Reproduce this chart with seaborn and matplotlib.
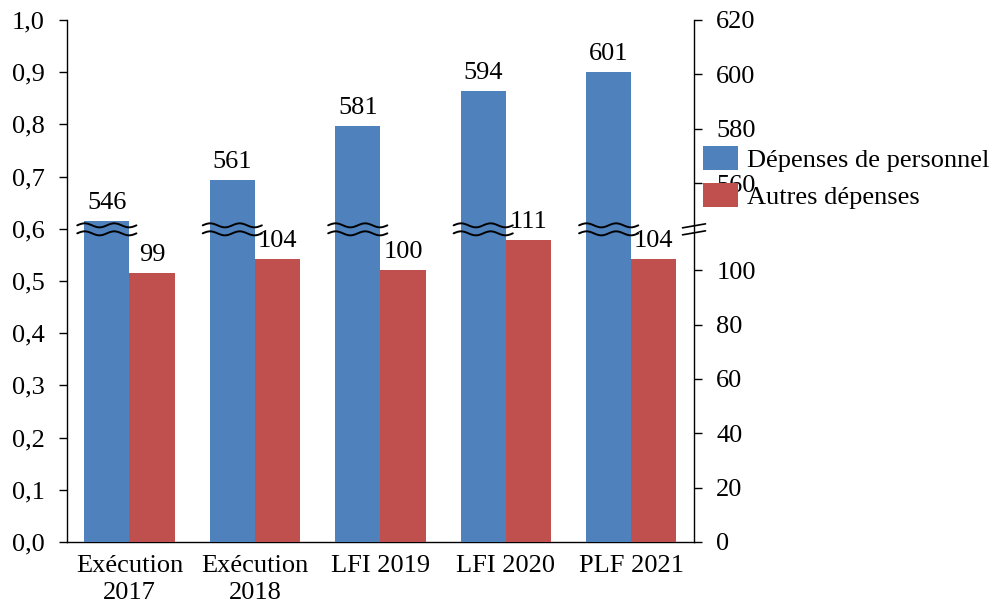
import numpy as np
import pandas as pd
import matplotlib
matplotlib.use("Agg")
import matplotlib.pyplot as plt
import matplotlib.transforms as mtransforms
import seaborn as sns

# ---- data -------------------------------------------------------------
categories = ["Exécution\n2017", "Exécution\n2018", "LFI 2019", "LFI 2020", "PLF 2021"]
personnel = [546, 561, 581, 594, 601]
autres = [99, 104, 100, 111, 104]
series_names = ["Dépenses de personnel", "Autres dépenses"]
right_ticks = [0, 20, 40, 60, 80, 100, 560, 580, 600, 620]
left_ticks = [0.0, 0.1, 0.2, 0.3, 0.4, 0.5, 0.6, 0.7, 0.8, 0.9, 1.0]

BLUE = "#4F81BD"
RED = "#C0504D"
FS = 19

# broken right axis: values up to LOW are shown as is, values from HIGH on
# are shifted down so that both ranges share one column
LOW, HIGH = 115.0, 543.0
GAP = HIGH - LOW


def forward(v):
    v = np.asarray(v, dtype=float)
    return np.where(v <= LOW, v, np.where(v >= HIGH, v - GAP, LOW + (v - LOW) * 1e-6))


def inverse(u):
    u = np.asarray(u, dtype=float)
    return np.where(u <= LOW, u, u + GAP)


sns.set_theme(style="white")
plt.rcParams["font.family"] = ["Liberation Serif", "DejaVu Serif"]
plt.rcParams["font.size"] = FS
plt.rcParams["text.color"] = "black"
plt.rcParams["xtick.color"] = "black"
plt.rcParams["ytick.color"] = "black"

fig = plt.figure(figsize=(10.05, 6.10), dpi=100)
ax = fig.add_axes([66.7 / 1005, 1 - 542 / 610, (694 - 66.7) / 1005, 522 / 610])
ax2 = ax.twinx()
ax2.set_yscale("function", functions=(forward, inverse))
ax2.set_ylim(0, 620)

df = pd.DataFrame({
    "cat": categories * 2,
    "serie": [series_names[0]] * len(categories) + [series_names[1]] * len(categories),
    "val": personnel + autres,
})

sns.barplot(data=df, x="cat", y="val", hue="serie", order=categories,
            hue_order=series_names, palette=[BLUE, RED], saturation=1,
            width=0.72, errorbar=None, ax=ax2, zorder=2,
            edgecolor="none", linewidth=0)
ax2.set_ylim(0, 620)
ax2.set_xlim(-0.5, len(categories) - 0.5)

handles, labels = ax2.get_legend_handles_labels()
if ax2.get_legend() is not None:
    ax2.get_legend().remove()

# value labels
for cont, vals in zip(ax2.containers, [personnel, autres]):
    ax2.bar_label(cont, labels=[str(v) for v in vals], padding=5, fontsize=FS)

# ---- axes styling ------------------------------------------------------
ax.set_ylim(0, 1)
ax.set_yticks(left_ticks)
ax.set_yticklabels([f"{t:.1f}".replace(".", ",") for t in left_ticks])
ax.set_xticks(range(len(categories)))
ax.set_xticklabels(categories, linespacing=1.3)
ax.tick_params(axis="x", length=0, pad=9, labelsize=FS)
ax.tick_params(axis="y", direction="out", length=6, width=1, pad=10, labelsize=FS)
for s in ["top", "right"]:
    ax.spines[s].set_visible(False)
for s in ["left", "bottom"]:
    ax.spines[s].set_color("black")
    ax.spines[s].set_linewidth(1)

ax2.set_yticks(right_ticks)
ax2.set_yticklabels([str(t) for t in right_ticks])
ax2.yaxis.set_minor_locator(matplotlib.ticker.NullLocator())
ax2.tick_params(axis="y", direction="out", length=6, width=1, pad=10, labelsize=FS)
ax2.tick_params(axis="x", length=0, labelbottom=False)
for s in ["top", "left", "bottom"]:
    ax2.spines[s].set_visible(False)
ax2.spines["right"].set_color("black")
ax2.spines["right"].set_linewidth(1)
ax2.set_xlabel("")
ax2.set_ylabel("")
ax.set_xlabel("")
ax.set_ylabel("")

# ---- break marks -------------------------------------------------------
px_per_left = ax.bbox.height  # left axis spans 0..1
y_break = ax.transData.inverted().transform(ax2.transData.transform((0, LOW)))[1]
blend = mtransforms.blended_transform_factory(ax2.transData, ax.transData)
px_per_x = ax.bbox.width / len(categories)

for bar in ax2.containers[0]:
    x0 = bar.get_x() - 7 / px_per_x
    x1 = bar.get_x() + bar.get_width() + 7 / px_per_x
    xs = np.linspace(x0, x1, 80)
    phase = (xs - x0) / (x1 - x0) * 2 * 2 * np.pi
    for off in (-4, 4):
        ys = y_break + (off + 2.0 * np.sin(phase)) / px_per_left
        ax2.plot(xs, ys, color="black", lw=1.4, transform=blend, zorder=5,
                 clip_on=False)

# slanted double stroke across the right spine (rising to the right)
blend_ax = mtransforms.blended_transform_factory(ax2.transAxes, ax.transData)
dx = 11.5 / ax.bbox.width
for off in (-3.5, 3.5):
    left_px, right_px = off - 2, off + 2   # pixels above the break centre
    ax2.plot([1 - dx, 1 + dx],
             [y_break + left_px / px_per_left, y_break + right_px / px_per_left],
             color="black", lw=1.2, transform=blend_ax, clip_on=False, zorder=6)

# ---- legend ------------------------------------------------------------
leg = fig.legend(handles, labels, loc="upper left",
                 bbox_to_anchor=(703 / 1005, 1 - 146 / 610),
                 frameon=False, borderpad=0, borderaxespad=0,
                 handlelength=1.33, handleheight=1.0, handletextpad=0.33,
                 labelspacing=0.42, fontsize=FS)
leg.set_zorder(10)

fig.savefig("out.png", dpi=100)
